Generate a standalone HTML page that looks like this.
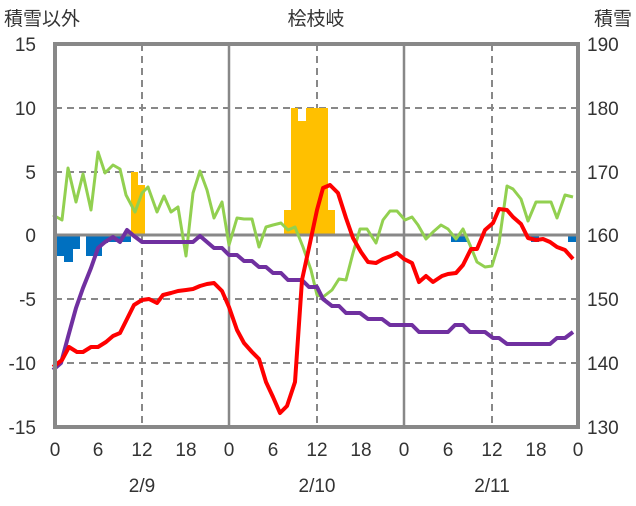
<!DOCTYPE html>
<html><head><meta charset="utf-8"><style>
html,body{margin:0;padding:0;background:#fff;}
svg text{font-family:"Liberation Sans","Noto Sans CJK JP",sans-serif;font-size:19px;fill:#333;}
</style></head><body>
<svg width="636" height="501" viewBox="0 0 636 501" xmlns="http://www.w3.org/2000/svg">
<g stroke="#888" stroke-width="2" stroke-dasharray="7,5" fill="none">
<line x1="55" y1="108" x2="578" y2="108"/><line x1="55" y1="172" x2="578" y2="172"/>
<line x1="55" y1="299" x2="578" y2="299"/><line x1="55" y1="363" x2="578" y2="363"/>
<line x1="142" y1="44" x2="142" y2="427"/><line x1="317" y1="44" x2="317" y2="427"/><line x1="492" y1="44" x2="492" y2="427"/>
</g>
<g stroke="#888" stroke-width="2.5"><line x1="229" y1="44" x2="229" y2="427"/><line x1="404" y1="44" x2="404" y2="427"/></g>
<g fill="#ffc000">
<rect x="131" y="172" width="7" height="63"/><rect x="138" y="185" width="7" height="50"/>
<rect x="284" y="210" width="7" height="25"/><rect x="291" y="108" width="7" height="127"/>
<rect x="298" y="121" width="8" height="114"/><rect x="306" y="108" width="22" height="127"/>
<rect x="328" y="210" width="7" height="25"/>
</g>
<g fill="#0070c0">
<rect x="53" y="235" width="11" height="21"/><rect x="64" y="235" width="9" height="27"/><rect x="73" y="235" width="7" height="14"/>
<rect x="86" y="235" width="16" height="21"/><rect x="102" y="235" width="6" height="8"/><rect x="108" y="235" width="23" height="7"/>
<rect x="451" y="235" width="16" height="7"/><rect x="531" y="235" width="8" height="7"/><rect x="568" y="235" width="8" height="7"/>
</g>
<line x1="55" y1="235" x2="578" y2="235" stroke="#888" stroke-width="3"/>
<polyline fill="none" stroke="#92d050" stroke-width="3" stroke-linejoin="round" points="53,215 62,220 68,168 76,202 83,174 91,210 98,152 105,173 113,165 120,169 126,195 135,212 142,193 148,187 157,212 164,196 171,212 178,207 186,256 193,193 200,171 207,190 214,218 222,202 229,245 237,218 244,219 252,219 259,247 266,227 273,225 281,223 288,230 295,227 303,247 311,270 317,295 323,297 332,290 339,279 346,280 353,253 360,229 367,229 376,243 383,220 390,211 397,211 405,220 412,217 418,225 426,239 433,232 441,225 448,229 456,239 463,229 470,245 477,262 485,267 492,266 499,243 507,186 513,189 521,199 528,221 536,202 543,202 551,202 557,218 565,195 573,197"/>
<polyline fill="none" stroke="#7030a0" stroke-width="4" stroke-linejoin="round" points="53,370 61,363 68,337 76,308 83,288 91,268 98,248 105,242 113,237 120,242 127,230 134,236 142,242 193,242 200,236 207,242 214,248 222,248 229,255 237,255 244,261 252,261 259,267 266,267 273,273 281,273 288,280 302,280 309,287 317,287 323,299 332,306 339,306 346,313 360,313 368,319 382,319 390,325 412,325 419,332 448,332 455,325 463,325 470,332 485,332 493,338 499,338 507,344 550,344 557,338 565,338 573,332"/>
<polyline fill="none" stroke="#ff0000" stroke-width="4" stroke-linejoin="round" points="53,367 62,360 69,347 77,352 83,352 91,347 98,347 106,342 113,336 120,333 127,319 134,305 142,300 149,299 157,303 163,295 171,293 178,291 186,290 193,289 200,286 207,284 214,283 222,291 229,307 237,330 244,343 252,352 259,359 266,382 273,397 280,413 287,406 295,382 302,280 310,243 317,210 323,188 330,185 338,193 346,218 353,238 361,252 368,262 376,263 383,259 391,256 397,253 404,259 412,263 419,282 426,276 433,282 442,276 448,274 456,273 463,265 471,249 477,249 485,230 493,223 499,209 507,210 513,217 521,224 528,238 536,240 543,239 550,242 557,247 565,250 573,259"/>
<rect x="55" y="44" width="523" height="383" fill="none" stroke="#888" stroke-width="4"/>
<g text-anchor="end">
<text x="36" y="51">15</text><text x="36" y="115">10</text><text x="36" y="179">5</text><text x="36" y="242">0</text>
<text x="36" y="306">-5</text><text x="36" y="370">-10</text><text x="36" y="434">-15</text>
</g>
<g text-anchor="start">
<text x="587" y="51">190</text><text x="587" y="115">180</text><text x="587" y="179">170</text><text x="587" y="242">160</text>
<text x="587" y="306">150</text><text x="587" y="370">140</text><text x="587" y="434">130</text>
</g>
<g text-anchor="middle">
<text x="55" y="456">0</text><text x="98" y="456">6</text><text x="142" y="456">12</text><text x="186" y="456">18</text>
<text x="229" y="456">0</text><text x="273" y="456">6</text><text x="317" y="456">12</text><text x="361" y="456">18</text>
<text x="404" y="456">0</text><text x="448" y="456">6</text><text x="492" y="456">12</text><text x="536" y="456">18</text><text x="578" y="456">0</text>
<text x="142" y="492">2/9</text><text x="317" y="492">2/10</text><text x="492" y="492">2/11</text>
<text x="316" y="25">桧枝岐</text>
</g>
<text x="4" y="25">積雪以外</text>
<text x="632" y="25" text-anchor="end">積雪</text>
</svg>
</body></html>
